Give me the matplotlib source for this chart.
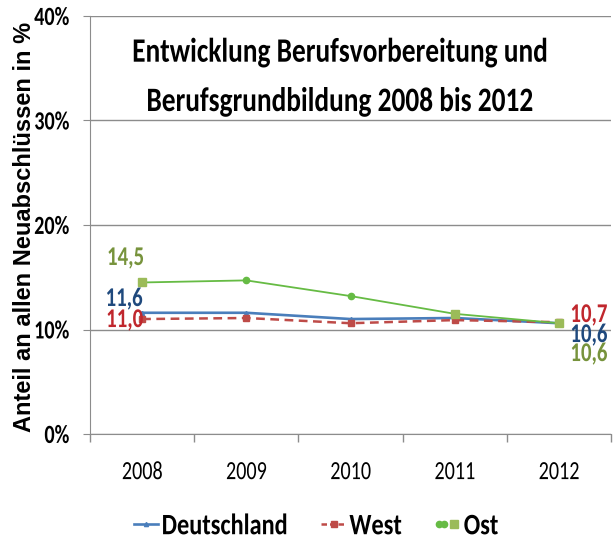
import matplotlib
matplotlib.use("Agg")
import matplotlib.pyplot as plt
from matplotlib.lines import Line2D
from matplotlib.legend_handler import HandlerTuple, HandlerLine2D
from matplotlib.patheffects import AbstractPathEffect
from matplotlib.transforms import Affine2D
from matplotlib import font_manager as fm

years = ["2008", "2009", "2010", "2011", "2012"]
deutschland = [11.6, 11.6, 11.0, 11.1, 10.6]
west = [11.0, 11.1, 10.6, 10.9, 10.7]
ost = [14.5, 14.7, 13.2, 11.5, 10.6]
yticks = [0, 10, 20, 30, 40]
ytick_labels = ["0%", "10%", "20%", "30%", "40%"]
series_names = ["Deutschland", "West", "Ost"]

_avail = set(f.name for f in fm.fontManager.ttflist)
_cands = ["Carlito", "Calibri", "Liberation Sans Narrow", "DejaVu Sans"]
MAIN = [c for c in _cands if c in _avail][0]
NARROW = [MAIN, "DejaVu Sans"]
ARIAL = ["Liberation Sans", "DejaVu Sans"]

c_de, c_w, c_o, c_o2 = "#4A7EBB", "#BE4B48", "#66BB44", "#9BBB59"
c_de_t, c_w_t, c_o_t = "#1F497D", "#C0272D", "#77933C"
GRAY = "#8C8C8C"


class Stretch(AbstractPathEffect):
    """Stretch glyphs vertically (text-local coordinates)."""
    def __init__(self, sy=1.3, sx=1.0, cy=0.0):
        super().__init__((0, 0))
        self.sx, self.sy, self.cy = sx, sy, cy

    def draw_path(self, renderer, gc, tpath, affine, rgbFace=None):
        t = (Affine2D().translate(0, -self.cy).scale(self.sx, self.sy)
             .translate(0, self.cy) + affine)
        renderer.draw_path(gc, tpath, t, rgbFace)


ST = [Stretch(1.3, cy=32)]

fig = plt.figure(figsize=(6.14, 5.4), dpi=100)
ax = fig.add_axes([90/614, 1-434/540, (611-90)/614, (434-16)/540])

x = list(range(len(years)))
ax.plot(x, deutschland, color=c_de, lw=1.9, marker="^", ms=3, zorder=3)
ax.plot(x, west, color=c_w, lw=1.8, ls=(0, (3.5, 2.2)), marker="s", ms=4, zorder=3)
ax.plot(x, ost, color=c_o, lw=1.3, marker="o", ms=4.5, markevery=[1, 2], zorder=4)
ax.plot(x, ost, ls="none", marker="s", ms=5.5, markevery=[0, 3, 4],
        color=c_o2, zorder=5)

ax.set_xlim(-0.5, 4.5)
ax.set_ylim(0, 40)
ax.set_yticks(yticks)
ax.set_yticklabels(ytick_labels)
ax.set_xticks(x)
ax.set_xticklabels(years)
ax.set_xticks([i - 0.5 for i in range(len(years) + 1)], minor=True)
ax.grid(axis="y", color=GRAY, lw=1)
ax.set_axisbelow(True)
for s in ["top", "right"]:
    ax.spines[s].set_visible(False)
ax.spines["left"].set_color(GRAY)
ax.spines["bottom"].set_color(GRAY)
ax.tick_params(axis="y", length=5, color=GRAY, pad=10)
ax.tick_params(axis="x", which="major", length=0, pad=21)
ax.tick_params(axis="x", which="minor", length=6, color=GRAY, width=1)
for lab in ax.get_yticklabels():
    lab.set_fontfamily(NARROW); lab.set_fontweight("bold"); lab.set_fontsize(14.5)
    lab.set_path_effects(ST)
for lab in ax.get_xticklabels():
    lab.set_fontfamily(NARROW); lab.set_fontsize(14.5)
    lab.set_path_effects(ST)

fig.text(31.5/614, 1-226.5/540, "Anteil an allen Neuabschlüssen in %", fontsize=17,
         fontweight="bold", family=ARIAL, rotation=90, rotation_mode="anchor",
         ha="center", va="baseline")

title_lines = ["Entwicklung Berufsvorbereitung und", "Berufsgrundbildung 2008 bis 2012"]
for line, yb in zip(title_lines, [61.7, 111]):
    ax.text((340-90)/521, 1-(yb-16)/418, line, transform=ax.transAxes,
            ha="center", va="baseline", fontsize=19.7, fontweight="bold",
            family=NARROW, path_effects=[Stretch(1.25, cy=0)])


def fmt(v):
    return f"{v:.1f}".replace(".", ",")


lf = dict(fontsize=15, fontweight="bold", family=NARROW, ha="center",
          va="center_baseline", textcoords="offset pixels", path_effects=ST)
ax.annotate(fmt(ost[0]), (x[0], ost[0]), xytext=(-16.5, 26.5), color=c_o_t, **lf)
ax.annotate(fmt(deutschland[0]), (x[0], deutschland[0]), xytext=(-18, 15.8), color=c_de_t, **lf)
ax.annotate(fmt(west[0]), (x[0], west[0]), xytext=(-17.5, 1), color=c_w_t, **lf)
ax.annotate(fmt(west[-1]), (x[-1], west[-1]), xytext=(30, 9.2), color=c_w_t, **lf)
ax.annotate(fmt(deutschland[-1]), (x[-1], deutschland[-1]), xytext=(30, -9.8), color=c_de_t, **lf)
ax.annotate(fmt(ost[-1]), (x[-1], ost[-1]), xytext=(30, -28.8), color=c_o_t, **lf)

h_de = Line2D([], [], color=c_de, lw=1.9, marker="^", ms=3)
h_w = Line2D([], [], color=c_w, lw=1.8, ls=(0, (2.2, 1.2)), marker="s", ms=4.5)
h_o_line = Line2D([], [], color=c_o, lw=1.3, marker="o", ms=4.5)
h_o_sq = Line2D([], [], ls="none", color=c_o2, marker="s", ms=5.5)
leg = fig.legend([h_de, h_w, (h_o_line, h_o_sq)], series_names, loc="center",
                 bbox_to_anchor=(316/614, 1-526/540), ncol=3, frameon=False,
                 handlelength=1.0, handletextpad=0.15, columnspacing=1.4,
                 handler_map={h_o_line: HandlerLine2D(numpoints=2, marker_pad=0.15),
                              tuple: HandlerTuple(ndivide=None, pad=0)},
                 prop={"family": NARROW, "weight": "bold", "size": 17.5})
for t in leg.get_texts():
    t.set_path_effects([Stretch(1.22, cy=32)])

fig.savefig("out.png", dpi=100)
